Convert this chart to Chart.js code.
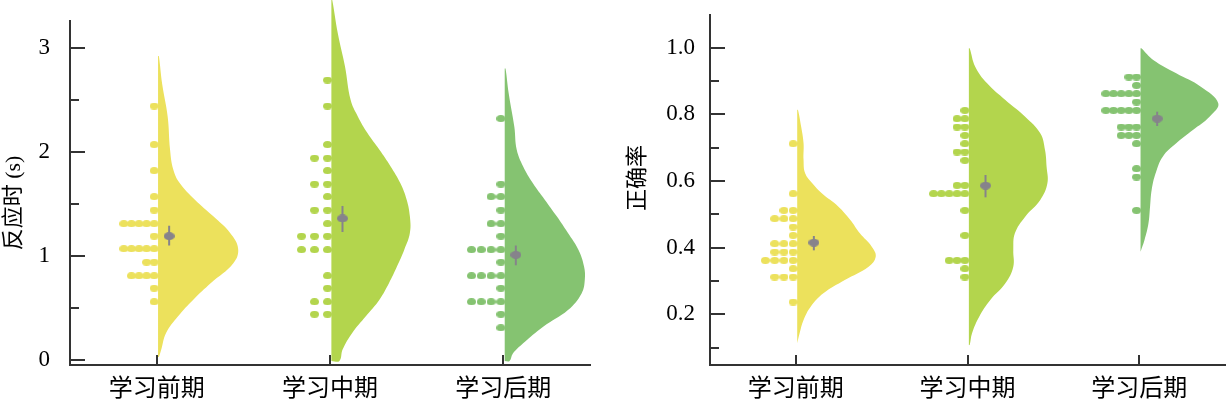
<!DOCTYPE html>
<html><head><meta charset="utf-8">
<script src="https://cdn.jsdelivr.net/npm/chart.js@4/dist/chart.umd.min.js"></script>
<style>
html,body{margin:0;padding:0;background:#fff;}
#wrap{position:relative;width:1231px;height:399px;overflow:hidden;}
canvas{position:absolute;top:0;}
</style></head><body>
<div id="wrap">
<canvas id="c1" width="600" height="399" style="left:0"></canvas>
<canvas id="c2" width="631" height="399" style="left:600px"></canvas>
</div>
<script>
// ---------------- data ----------------
const categories = ['学习前期', '学习中期', '学习后期'];
const categoryTicks = [0, 1, 2];
const groupColors = ['#ECE15C', '#B3D54D', '#85C371'];

// Panel 1: 反应时 (s) — individual observations (dots)
const rtDots0 = [2.44, 2.07, 1.82, 1.57, 1.44, 1.31, 1.31, 1.31, 1.31, 1.31, 1.19, 1.07, 1.07, 1.07, 1.07, 1.07, 0.94, 0.94, 0.81, 0.81, 0.81, 0.81, 0.69, 0.56];
const rtDots1 = [2.69, 2.44, 2.07, 1.94, 1.94, 1.82, 1.69, 1.69, 1.57, 1.44, 1.44, 1.31, 1.19, 1.19, 1.19, 1.06, 1.06, 1.06, 0.81, 0.69, 0.56, 0.56, 0.44, 0.44];
const rtDots2 = [2.32, 1.69, 1.57, 1.57, 1.44, 1.31, 1.31, 1.19, 1.06, 1.06, 1.06, 1.06, 0.94, 0.81, 0.81, 0.81, 0.81, 0.69, 0.56, 0.56, 0.56, 0.56, 0.44, 0.31];
const rtMeans = [1.19, 1.36, 1.01];
const rtLow = [1.10, 1.23, 0.91];
const rtHigh = [1.29, 1.48, 1.10];
// density curves (value, relative density)
const rtViolinY0 = [0.03, 0.10, 0.26, 0.42, 0.58, 0.74, 0.93, 1.07, 1.22, 1.38, 1.54, 1.70, 1.83, 2.02, 2.34, 2.66, 2.92];
const rtViolinD0 = [0.01, 0.04, 0.10, 0.25, 0.44, 0.66, 0.94, 1.00, 0.90, 0.69, 0.46, 0.27, 0.19, 0.15, 0.12, 0.05, 0.01];
const rtViolinY1 = [-0.01, 0.10, 0.26, 0.42, 0.58, 0.74, 0.90, 1.06, 1.22, 1.38, 1.54, 1.70, 1.86, 2.02, 2.18, 2.34, 2.50, 2.82, 3.14, 3.46];
const rtViolinD1 = [0.10, 0.14, 0.26, 0.43, 0.60, 0.72, 0.82, 0.91, 0.98, 0.98, 0.94, 0.86, 0.74, 0.60, 0.45, 0.33, 0.24, 0.17, 0.08, 0.01];
const rtViolinY2 = [-0.01, 0.06, 0.16, 0.32, 0.48, 0.64, 0.77, 0.90, 1.06, 1.22, 1.38, 1.54, 1.70, 1.86, 2.02, 2.24, 2.56, 2.80];
const rtViolinD2 = [0.06, 0.10, 0.23, 0.48, 0.79, 0.96, 1.00, 0.99, 0.92, 0.79, 0.65, 0.50, 0.35, 0.23, 0.15, 0.12, 0.05, 0.01];
const rtTickValues = [0, 1, 2, 3];

// Panel 2: 正确率
const acDots0 = [0.712, 0.562, 0.512, 0.512, 0.487, 0.487, 0.487, 0.462, 0.437, 0.412, 0.412, 0.412, 0.387, 0.387, 0.387, 0.362, 0.362, 0.362, 0.362, 0.337, 0.312, 0.312, 0.312, 0.237];
const acDots1 = [0.812, 0.787, 0.787, 0.762, 0.762, 0.737, 0.712, 0.687, 0.687, 0.662, 0.587, 0.587, 0.562, 0.562, 0.562, 0.562, 0.562, 0.512, 0.437, 0.362, 0.362, 0.362, 0.337, 0.312];
const acDots2 = [0.912, 0.912, 0.887, 0.862, 0.862, 0.862, 0.862, 0.862, 0.837, 0.812, 0.812, 0.812, 0.812, 0.812, 0.762, 0.762, 0.762, 0.737, 0.737, 0.737, 0.712, 0.637, 0.612, 0.512];
const acMeans = [0.415, 0.586, 0.787];
const acLow = [0.392, 0.551, 0.765];
const acHigh = [0.435, 0.618, 0.808];
const acViolinY0 = [0.113, 0.143, 0.183, 0.223, 0.263, 0.303, 0.343, 0.373, 0.403, 0.443, 0.483, 0.523, 0.563, 0.593, 0.623, 0.663, 0.713, 0.763, 0.813];
const acViolinD0 = [0.00, 0.03, 0.08, 0.17, 0.33, 0.60, 0.90, 0.99, 0.94, 0.79, 0.67, 0.52, 0.31, 0.19, 0.10, 0.08, 0.08, 0.05, 0.01];
const acViolinY1 = [0.108, 0.143, 0.193, 0.243, 0.293, 0.343, 0.393, 0.443, 0.493, 0.543, 0.593, 0.643, 0.693, 0.743, 0.793, 0.843, 0.893, 0.943, 0.998];
const acViolinD1 = [0.01, 0.04, 0.13, 0.27, 0.46, 0.56, 0.56, 0.58, 0.71, 0.90, 0.99, 0.98, 0.96, 0.90, 0.71, 0.46, 0.23, 0.08, 0.01];
const acViolinY2 = [0.388, 0.423, 0.473, 0.523, 0.573, 0.623, 0.673, 0.713, 0.753, 0.793, 0.833, 0.883, 0.923, 0.963, 0.998];
const acViolinD2 = [0.00, 0.05, 0.10, 0.12, 0.14, 0.19, 0.28, 0.45, 0.66, 0.87, 0.98, 0.76, 0.45, 0.16, 0.01];
const acTickValues = [0.2, 0.4, 0.6, 0.8, 1.0];

// ---------------- style ----------------
const AXIS_COLOR = '#333333';
const MEAN_COLOR = '#86838B';
const SERIF = '"Liberation Serif", "Times New Roman", serif';
const CJK = '"Noto Sans CJK SC", sans-serif';

function ellipseImg(w, h, color) {
  const c = document.createElement('canvas');
  c.width = w; c.height = h;
  const g = c.getContext('2d');
  g.fillStyle = color;
  g.beginPath(); g.ellipse(w / 2, h / 2, w / 2, h / 2, 0, 0, Math.PI * 2); g.fill();
  return c;
}
function stackDots(values, ci, firstOff, step) {
  const seen = {};
  return values.map(v => {
    const key = v.toFixed(4);
    const k = seen[key] || 0; seen[key] = k + 1;
    return {x: ci - firstOff - k * step, y: v};
  });
}
function violinPoints(ys, ds, ci, shift, halfW) {
  const pts = [{x: ci + shift, y: ys[0]}];
  ys.forEach((y, j) => pts.push({x: ci + shift + ds[j] * halfW, y: y}));
  pts.push({x: ci + shift, y: ys[ys.length - 1]});
  return pts;
}

const panels = [
  {
    canvas: 'c1',
    dots: [rtDots0, rtDots1, rtDots2],
    vy: [rtViolinY0, rtViolinY1, rtViolinY2],
    vd: [rtViolinD0, rtViolinD1, rtViolinD2],
    means: rtMeans, low: rtLow, high: rtHigh,
    majors: rtTickValues,
    yMin: -0.048, yMax: 3.257, step: 0.5,
    fmt: v => String(Math.round(v)),
    title: '反应时 (s)',
    axisW: 70, padTop: 21, padRight: 10, labelPad: 20,
    dotStep: [0.0438, 0.075, 0.0565], dotFirst: 0.0145,
    meanOff: 0.072, titleX: 14, titleY: 203
  },
  {
    canvas: 'c2',
    dots: [acDots0, acDots1, acDots2],
    vy: [acViolinY0, acViolinY1, acViolinY2],
    vd: [acViolinD0, acViolinD1, acViolinD2],
    means: acMeans, low: acLow, high: acHigh,
    majors: acTickValues,
    yMin: 0.048, yMax: 1.098, step: 0.1,
    fmt: v => v.toFixed(1),
    title: '正确率',
    axisW: 110, padTop: 15, padRight: 0, labelPad: 15,
    dotStep: [0.054, 0.0456, 0.0447], dotFirst: 0.0155,
    meanOff: 0.105, titleX: 38, titleY: 178
  }
];

const violinFill = {
  id: 'violinFill',
  afterDatasetDraw(chart, args) {
    const ds = chart.data.datasets[args.index];
    if (!ds.violinColor) return;
    const line = args.meta.dataset;
    const ctx = chart.ctx;
    ctx.save();
    ctx.fillStyle = ds.violinColor;
    ctx.beginPath();
    if (line && typeof line.path === 'function') {
      if (line.updateControlPoints) line.updateControlPoints(chart.chartArea, 'x');
      line.path(ctx);
    } else {
      args.meta.data.forEach((p, i) => i ? ctx.lineTo(p.x, p.y) : ctx.moveTo(p.x, p.y));
    }
    ctx.closePath();
    ctx.fill();
    ctx.restore();
  }
};

panels.forEach(P => {
  const dotImgs = groupColors.map(c => ellipseImg(9, 7, c));
  const meanImg = ellipseImg(11, 8, MEAN_COLOR);
  const datasets = [];
  datasets.push({
    type: 'line', showLine: false, order: 0,
    data: P.means.map((m, i) => ({x: i + P.meanOff, y: m})),
    pointStyle: meanImg, pointRadius: 5, clip: false
  });
  P.means.forEach((m, i) => datasets.push({
    type: 'line', order: 1,
    data: [{x: i + P.meanOff, y: P.low[i]}, {x: i + P.meanOff, y: P.high[i]}],
    borderColor: MEAN_COLOR, borderWidth: 2, pointRadius: 0, tension: 0, clip: false
  }));
  P.dots.forEach((vals, i) => datasets.push({
    type: 'line', showLine: false, order: 2,
    data: stackDots(vals, i, P.dotFirst, P.dotStep[i]),
    pointStyle: dotImgs[i], pointRadius: 4, clip: false
  }));
  P.vy.forEach((ys, i) => datasets.push({
    type: 'line', order: 3, violinColor: groupColors[i],
    data: violinPoints(ys, P.vd[i], i, 0.008, 0.462),
    borderWidth: 0, borderColor: groupColors[i], pointRadius: 0,
    tension: 0.4, capBezierPoints: false, clip: false, fill: false
  }));

  const deco = {
    id: 'deco',
    afterDraw(chart) {
      const {ctx, chartArea: a, scales} = chart;
      const x = scales.x, y = scales.y;
      ctx.save();
      ctx.strokeStyle = AXIS_COLOR; ctx.lineWidth = 2;
      y.ticks.forEach(t => {
        const py = Math.round(y.getPixelForValue(t.value));
        const major = P.majors.some(m => Math.abs(m - t.value) < 1e-6);
        ctx.beginPath(); ctx.moveTo(a.left, py); ctx.lineTo(a.left + (major ? 15 : 9), py); ctx.stroke();
      });
      x.ticks.forEach(t => {
        const px = Math.round(x.getPixelForValue(t.value));
        ctx.beginPath(); ctx.moveTo(px, a.bottom); ctx.lineTo(px, a.bottom - 10); ctx.stroke();
      });
      ctx.fillStyle = '#000';
      ctx.font = '22px "Liberation Serif", ' + CJK;
      ctx.textAlign = 'center'; ctx.textBaseline = 'middle';
      ctx.translate(P.titleX, P.titleY);
      ctx.rotate(-Math.PI / 2);
      ctx.fillText(P.title, 0, 0);
      ctx.restore();
    }
  };

  new Chart(document.getElementById(P.canvas), {
    type: 'line',
    data: {datasets: datasets},
    plugins: [violinFill, deco],
    options: {
      responsive: false, animation: false, events: [], devicePixelRatio: 1,
      layout: {padding: {top: P.padTop, right: P.padRight, left: 0, bottom: 0}},
      elements: {line: {capBezierPoints: false}},
      plugins: {legend: {display: false}, tooltip: {enabled: false}},
      scales: {
        x: {
          type: 'linear', min: -0.5, max: 2.5,
          grid: {display: false, drawTicks: false},
          border: {display: true, color: AXIS_COLOR, width: 2},
          ticks: {
            autoSkip: false, maxRotation: 0, minRotation: 0,
            padding: 7, color: '#000', font: {family: CJK, size: 24},
            callback: v => categories[v] !== undefined ? categories[v] : ''
          },
          afterBuildTicks: s => { s.ticks = categoryTicks.map(v => ({value: v})); },
          afterFit: s => { s.height = 34; s.paddingLeft = 0; s.paddingRight = 0; }
        },
        y: {
          type: 'linear', min: P.yMin, max: P.yMax,
          grid: {display: false, drawTicks: false},
          border: {display: true, color: AXIS_COLOR, width: 2},
          ticks: {
            stepSize: P.step, includeBounds: false, autoSkip: false,
            padding: P.labelPad, color: '#000', font: {family: SERIF, size: 23},
            callback: v => P.majors.some(m => Math.abs(m - v) < 1e-6) ? P.fmt(v) : ''
          },
          afterFit: s => { s.width = P.axisW; s.paddingTop = 0; s.paddingBottom = 0; }
        }
      }
    }
  });
});
</script>
</body></html>
